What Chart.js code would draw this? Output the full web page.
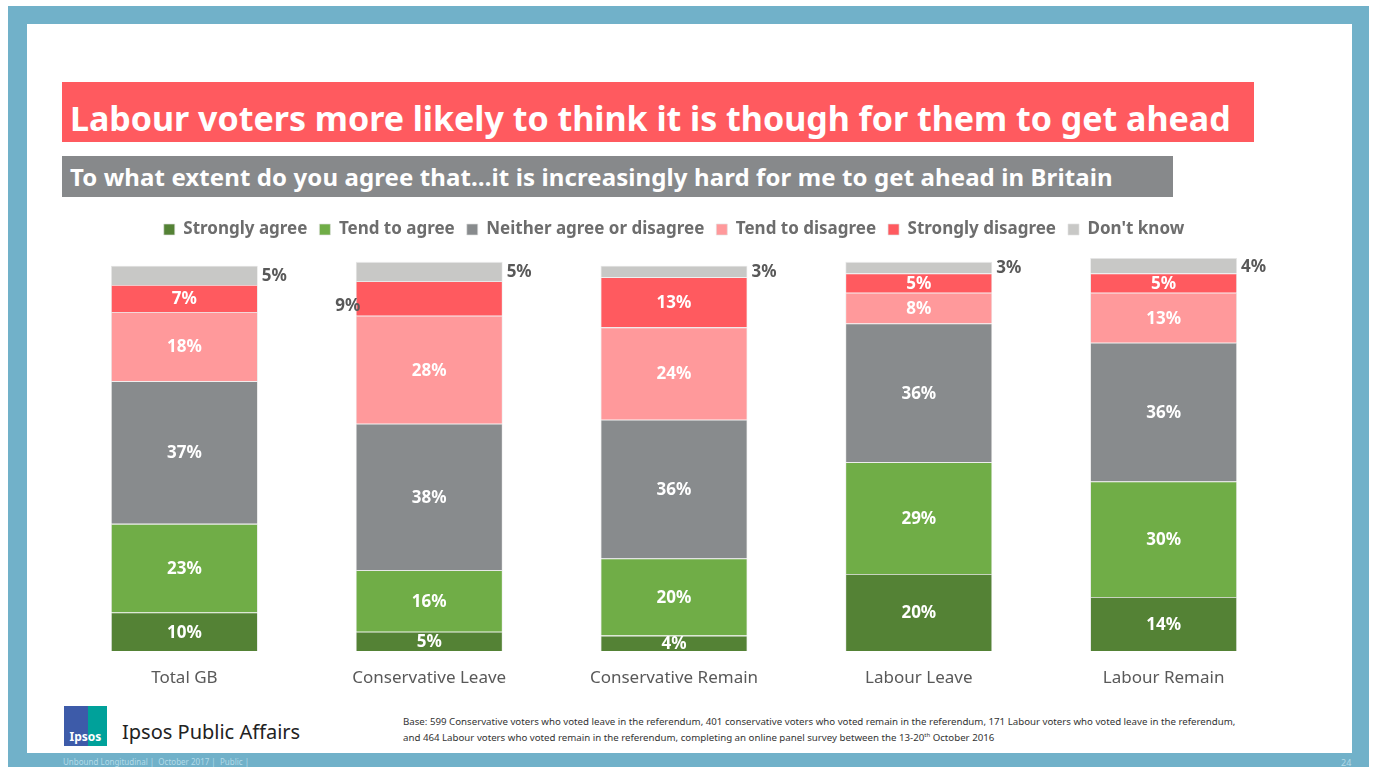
<!DOCTYPE html>
<html>
<head>
<meta charset="utf-8">
<script src="https://cdn.jsdelivr.net/npm/chart.js@4.4.1/dist/chart.umd.min.js"></script>
<style>
  html, body { margin: 0; padding: 0; background: #ffffff; }
  body { width: 1375px; height: 767px; position: relative; overflow: hidden; font-family: "Noto Sans", "Open Sans", sans-serif; }
  #frame { position: absolute; left: 8px; top: 6px; width: 1361px; height: 761px; background: #71b1c9; }
  #sheet { position: absolute; left: 27px; top: 24px; width: 1325px; height: 729px; background: #ffffff; }
  #title { position: absolute; left: 62px; top: 82px; width: 1192px; height: 60px; background: #ff5a5f; color: #fff;
           font-weight: bold; font-size: 34px; letter-spacing: -0.02px; line-height: 60px; padding-left: 8px; padding-top: 6px;
           box-sizing: border-box; white-space: nowrap; }
  #subtitle { position: absolute; left: 62px; top: 156px; width: 1111px; height: 41px; background: #87898b; color: #fff;
              font-weight: bold; font-size: 24px; letter-spacing: 0.1px; line-height: 41px; padding-left: 8px; box-sizing: border-box; white-space: nowrap; }
  #chartBox { position: absolute; left: 62px; top: 205px; width: 1224px; height: 485px; }
  #logo { position: absolute; left: 64px; top: 706px; width: 43px; height: 40px; overflow: hidden; }
  #logo .l { position: absolute; left: 0; top: 0; width: 24px; height: 40px; background: #3d5ba9; }
  #logo .r { position: absolute; left: 24px; top: 0; width: 19px; height: 40px; background: #00a19a; }
  #logo .t { position: absolute; left: 0; width: 43px; top: 22px; text-align: center; color: #fff; font-size: 12px; font-weight: bold; }
  #brand { position: absolute; left: 122px; top: 718px; font-size: 20px; color: #222; }
  #base { position: absolute; left: 403px; top: 714px; font-size: 9.7px; line-height: 16px; color: #333; white-space: nowrap; }
  #base sup { font-size: 6px; line-height: 0; }
  #foot { position: absolute; left: 63px; top: 756px; font-size: 8px; color: #b4dbe8; }
  #page { position: absolute; left: 1341px; top: 756px; font-size: 9px; color: #b4dbe8; }
</style>
</head>
<body>
<div id="frame"></div>
<div id="sheet"></div>
<div id="title">Labour voters more likely to think it is though for them to get ahead</div>
<div id="subtitle">To what extent do you agree that…it is increasingly hard for me to get ahead in Britain</div>
<div id="chartBox"><canvas id="chart"></canvas></div>
<div id="logo"><div class="l"></div><div class="r"></div><div class="t">Ipsos</div></div>
<div id="brand">Ipsos Public Affairs</div>
<div id="base">Base: 599 Conservative voters who voted leave in the referendum, 401 conservative voters who voted remain in the referendum, 171 Labour voters who voted leave in the referendum,<br>and 464 Labour voters who voted remain in the referendum, completing an online panel survey between the 13-20<sup>th</sup> October 2016</div>
<div id="foot">Unbound Longitudinal |&nbsp; October 2017 |&nbsp; Public |</div>
<div id="page">24</div>

<script>
// Groups and answer shares (%)
var groups = ["Total GB", "Conservative Leave", "Conservative Remain", "Labour Leave", "Labour Remain"];
var stronglyAgree = [10, 5, 4, 20, 14];
var tendAgree = [23, 16, 20, 29, 30];
var neither = [37, 38, 36, 36, 36];
var tendDisagree = [18, 28, 24, 8, 13];
var stronglyDisagree = [7, 9, 13, 5, 5];
var dontKnow = [5, 5, 3, 3, 4];

var seriesNames = ["Strongly agree", "Tend to agree", "Neither agree or disagree", "Tend to disagree", "Strongly disagree", "Don't know"];
var seriesValues = [stronglyAgree, tendAgree, neither, tendDisagree, stronglyDisagree, dontKnow];
var seriesColors = ["#548235", "#70ad47", "#888b8d", "#ff999b", "#ff5a5f", "#c8c8c6"];

// labels drawn outside the bar: series index -> side
var outsideSide = { 5: "right" };
// single segments whose label sits to the left of the bar
var leftLabels = [[4, 1]];

var fontFamily = '"Noto Sans", "Open Sans", sans-serif';

var datasets = seriesValues.map(function (vals, i) {
  return {
    label: seriesNames[i],
    data: vals,
    backgroundColor: seriesColors[i],
    borderColor: "rgba(225,225,225,0.8)",
    borderWidth: 0.8,
    barPercentage: 0.6,
    categoryPercentage: 1.0
  };
});

var valueLabels = {
  id: "valueLabels",
  afterDatasetsDraw: function (chart) {
    var ctx = chart.ctx;
    ctx.save();
    ctx.font = "bold 17px " + fontFamily;
    ctx.textBaseline = "middle";
    chart.data.datasets.forEach(function (ds, di) {
      var meta = chart.getDatasetMeta(di);
      meta.data.forEach(function (bar, i) {
        var text = ds.data[i] + "%";
        var midY = (bar.y + bar.base) / 2;
        var isLeft = leftLabels.some(function (p) { return p[0] === di && p[1] === i; });
        if (isLeft) {
          ctx.fillStyle = "#595959";
          ctx.textAlign = "center";
          ctx.fillText(text, bar.x - bar.width / 2 - 8, midY + 8);
        } else if (outsideSide[di] === "right") {
          ctx.fillStyle = "#595959";
          ctx.textAlign = "left";
          ctx.fillText(text, bar.x + bar.width / 2 + 4, midY + 1);
        } else {
          ctx.fillStyle = "#ffffff";
          ctx.textAlign = "center";
          ctx.fillText(text, bar.x, midY + 1);
        }
      });
    });
    ctx.restore();
  }
};

// leave a little more room between the legend and the bars
var legendGap = {
  id: "legendGap",
  beforeInit: function (chart) {
    var fit = chart.legend.fit;
    chart.legend.fit = function () {
      fit.bind(chart.legend)();
      this.height += 10;
    };
  }
};

new Chart(document.getElementById("chart").getContext("2d"), {
  type: "bar",
  data: { labels: groups, datasets: datasets },
  options: {
    responsive: true,
    maintainAspectRatio: false,
    animation: false,
    layout: { padding: { top: 4, left: 0, right: 0, bottom: 0 } },
    plugins: {
      tooltip: { enabled: false },
      legend: {
        position: "top",
        labels: {
          boxWidth: 11,
          boxHeight: 11,
          padding: 12,
          color: "#6d6d6d",
          font: { family: fontFamily, size: 17, weight: "bold" }
        }
      }
    },
    scales: {
      x: {
        stacked: true,
        grid: { display: false, drawTicks: false },
        border: { display: false },
        ticks: { color: "#595959", padding: 17, font: { family: fontFamily, size: 17 } },
        afterFit: function (s) { s.height = 39; }
      },
      y: {
        stacked: true,
        display: false,
        min: 0,
        max: 102
      }
    }
  },
  plugins: [valueLabels, legendGap]
});
</script>
</body>
</html>
